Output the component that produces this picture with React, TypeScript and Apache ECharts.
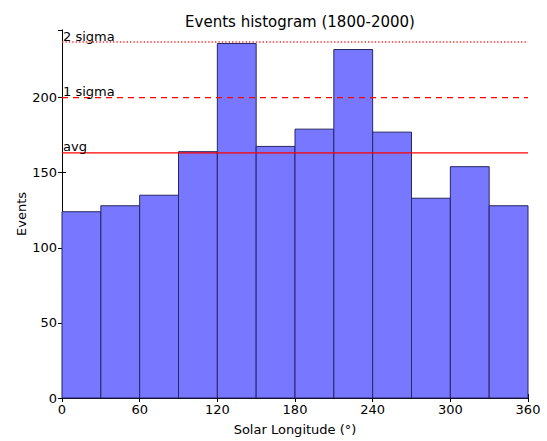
import React, { useEffect, useRef } from "react";
import * as echarts from "echarts";

const binEdges = [0, 30, 60, 90, 120, 150, 180, 210, 240, 270, 300, 330, 360];
const counts = [124, 128, 135, 164, 236, 167.5, 179, 232, 177, 133, 154, 128];
const refNames = ["avg", "1 sigma", "2 sigma"];
const refValues = [163.2, 200, 237];
const refStyles = ["solid", "dashed", "dotted"];
const xTicks = [0, 60, 120, 180, 240, 300, 360];
const yTicks = [0, 50, 100, 150, 200];

const FONT = "DejaVu Sans";

export default function App() {
  const ref = useRef<HTMLDivElement>(null);
  useEffect(() => {
    document.body.style.margin = "0";
    const chart = echarts.init(ref.current!, null, { renderer: "svg" });
    const data = counts.map((c, i) => [binEdges[i], binEdges[i + 1], c]);
    const tickAxisCommon = {
      axisLine: { show: true, lineStyle: { color: "#000", width: 1 } },
      axisTick: { show: true, inside: true, length: 4, lineStyle: { color: "#000" } },
      splitLine: { show: false },
    };
    const lineSeries = refNames.map((name, i) => {
      const st = refStyles[i];
      return {
        type: "line",
        name,
        xAxisIndex: 0,
        yAxisIndex: 0,
        symbol: "none",
        z: 5,
        silent: true,
        emphasis: { disabled: true },
        lineStyle: {
          color: st === "dotted" ? "#ff3030" : "#ff0000",
          width: st === "solid" ? 1.2 : 1.4,
          opacity: 1,
          type: st === "solid" ? "solid" : st === "dashed" ? [6, 5] : [1.4, 2],
        },
        data: [
          [binEdges[0], refValues[i]],
          [binEdges[binEdges.length - 1], refValues[i]],
        ],
      };
    });
    const labelSeries = {
      type: "scatter",
      xAxisIndex: 0,
      yAxisIndex: 0,
      symbol: "circle",
      symbolSize: 1,
      silent: true,
      z: 6,
      itemStyle: { color: "rgba(0,0,0,0)" },
      data: refNames.map((name, i) => ({
        value: [binEdges[0], refValues[i]],
        label: {
          show: true,
          formatter: name,
          position: [1.5, 1],
          align: "left",
          verticalAlign: "bottom",
          fontFamily: FONT,
          fontSize: 13,
          color: "#000",
          opacity: 1,
          textBorderWidth: 0,
        },
      })),
    };
    const option: any = {
      animation: false,
      backgroundColor: "#fff",
      title: {
        text: "Events histogram (1800-2000)",
        left: 295,
        textAlign: "center",
        top: 9,
        textStyle: { fontFamily: FONT, fontSize: 15, fontWeight: "normal", color: "#000" },
      },
      grid: { left: 62, right: 19, top: 30, bottom: 39 },
      xAxis: [
        {
          type: "value",
          min: 0,
          max: 360,
          interval: 60,
          position: "bottom",
          name: "Solar Longitude (°)",
          nameLocation: "middle",
          nameGap: 25,
          nameMoveOverlap: false,
          nameTextStyle: { fontFamily: FONT, fontSize: 13, color: "#000", verticalAlign: "top" },
          axisLabel: {
            fontFamily: FONT,
            fontSize: 13,
            color: "#000",
            margin: 5,
            formatter: (v: number) => (xTicks.includes(v) ? String(v) : ""),
          },
          ...tickAxisCommon,
        },
        {
          type: "value",
          min: 0,
          max: 360,
          interval: 60,
          position: "top",
          axisLabel: { show: false },
          ...tickAxisCommon,
        },
      ],
      yAxis: [
        {
          type: "value",
          min: 0,
          max: 245,
          interval: 50,
          position: "left",
          name: "Events",
          nameLocation: "middle",
          nameGap: 34,
          nameMoveOverlap: false,
          nameRotate: 90,
          nameTextStyle: { fontFamily: FONT, fontSize: 13, color: "#000" },
          axisLabel: {
            fontFamily: FONT,
            fontSize: 13,
            color: "#000",
            margin: 5,
            showMaxLabel: false,
            formatter: (v: number) => (yTicks.includes(v) ? String(v) : ""),
          },
          ...tickAxisCommon,
        },
        {
          type: "value",
          min: 0,
          max: 245,
          interval: 50,
          position: "right",
          axisLabel: { show: false },
          ...tickAxisCommon,
        },
      ],
      series: [
        {
          type: "custom",
          xAxisIndex: 0,
          yAxisIndex: 0,
          encode: { x: [0, 1], y: 2 },
          data,
          renderItem: (params: any, api: any) => {
            const p0 = api.coord([api.value(0), api.value(2)]);
            const p1 = api.coord([api.value(1), 0]);
            return {
              type: "rect",
              shape: { x: p0[0], y: p0[1], width: p1[0] - p0[0], height: p1[1] - p0[1] },
              style: { fill: "#7777ff", stroke: "#262660", lineWidth: 1 },
            };
          },
          z: 2,
        },
        ...lineSeries,
        labelSeries,
      ],
    };
    chart.setOption(option);
    return () => chart.dispose();
  }, []);
  return <div ref={ref} style={{ width: 547, height: 441 }} />;
}
